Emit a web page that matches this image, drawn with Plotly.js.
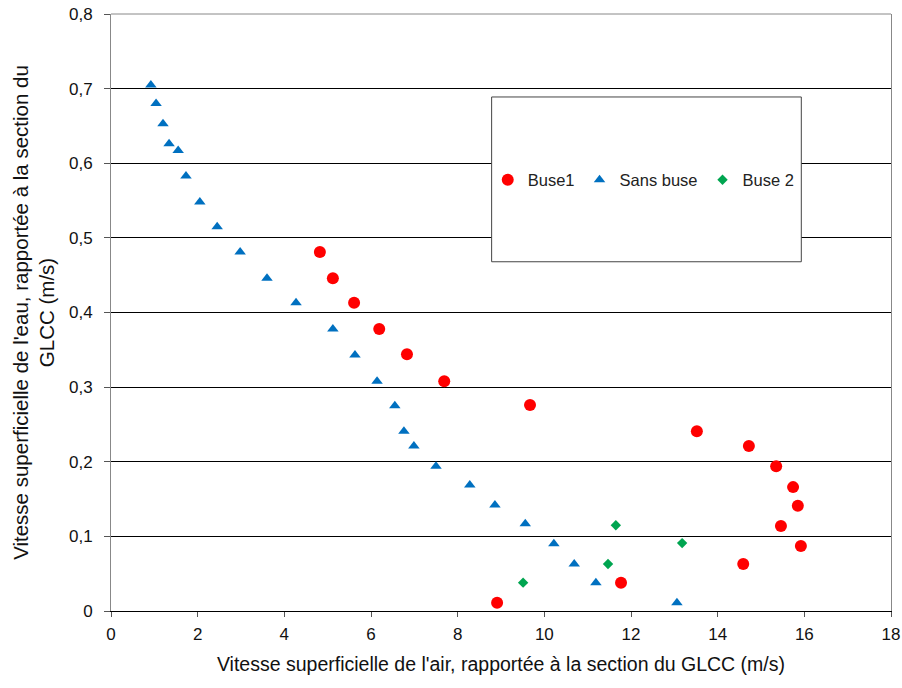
<!DOCTYPE html>
<html>
<head>
<meta charset="utf-8">
<script src="https://cdn.plot.ly/plotly-3.0.1.min.js"></script>
<style>html,body{margin:0;padding:0;background:#fff;}#chart{width:902px;height:688px;}</style>
</head>
<body>
<div id="chart"></div>
<script>
// Buse1
var buse1X = [4.82, 5.12, 5.61, 6.19, 6.83, 7.69, 9.67, 13.52, 14.72, 15.35, 15.74, 15.85, 15.46, 15.92, 14.59, 11.77, 8.91];
var buse1Y = [0.481, 0.446, 0.413, 0.378, 0.344, 0.308, 0.276, 0.241, 0.221, 0.194, 0.166, 0.141, 0.114, 0.087, 0.063, 0.038, 0.011];
// Sans buse
var sansX = [0.92, 1.04, 1.20, 1.34, 1.55, 1.73, 2.05, 2.45, 2.98, 3.60, 4.27, 5.12, 5.63, 6.14, 6.55, 6.76, 6.99, 7.50, 8.28, 8.86, 9.56, 10.22, 10.69, 11.19, 13.06];
var sansY = [0.705, 0.680, 0.653, 0.626, 0.617, 0.583, 0.548, 0.515, 0.481, 0.446, 0.413, 0.378, 0.343, 0.308, 0.275, 0.241, 0.221, 0.194, 0.169, 0.142, 0.117, 0.090, 0.063, 0.038, 0.011];
// Buse 2
var buse2X = [11.65, 13.18, 11.47, 9.51];
var buse2Y = [0.115, 0.091, 0.063, 0.038];

var seriesNames = ["Buse1", "Sans buse", "Buse 2"];
var xTitle = "Vitesse superficielle de l'air, rapportée à la section du GLCC (m/s)";
var yTitle = "Vitesse superficielle de l'eau, rapportée à la section du<br>GLCC (m/s)";

var font = "Liberation Sans, Arial, sans-serif";

var traces = [
  {x: buse1X, y: buse1Y, name: seriesNames[0], type: 'scatter', mode: 'markers',
   marker: {symbol: 'circle', size: 12, color: '#FF0000'}},
  {x: sansX, y: sansY, name: seriesNames[1], type: 'scatter', mode: 'markers',
   marker: {symbol: 'triangle-up', size: 10, color: '#0070C0'}},
  {x: buse2X, y: buse2Y, name: seriesNames[2], type: 'scatter', mode: 'markers',
   marker: {symbol: 'diamond', size: 8, color: '#00A550'}}
];

var layout = {
  width: 902, height: 688,
  margin: {l: 111, r: 11, t: 14, b: 77},
  paper_bgcolor: '#fff', plot_bgcolor: '#fff',
  separators: ', ',
  font: {family: font, size: 17, color: '#111'},
  showlegend: true,
  legend: {
    orientation: 'h', x: 0.683, y: 0.722, xanchor: 'center', yanchor: 'middle',
    bgcolor: 'rgba(0,0,0,0)', borderwidth: 0,
    font: {family: font, size: 16.5, color: '#222'},
    itemwidth: 30, tracegroupgap: 0
  },
  xaxis: {
    range: [0, 18], dtick: 2, tick0: 0, showgrid: false, zeroline: false,
    showline: true, linecolor: '#000', linewidth: 1,
    ticks: 'outside', ticklen: 5, tickcolor: '#555', tickwidth: 1, ticklabelstandoff: 3,
    tickfont: {family: font, size: 17, color: '#111'},
    title: {text: xTitle, font: {family: font, size: 19.5, color: '#111'}, standoff: 13}
  },
  yaxis: {
    range: [0, 0.8], dtick: 0.1, tick0: 0, showgrid: true, gridcolor: '#000', gridwidth: 1,
    zeroline: false, showline: true, linecolor: '#888', linewidth: 1, mirror: true,
    ticks: 'outside', ticklen: 6, tickcolor: '#555', tickwidth: 1, ticklabelstandoff: 8,
    tickfont: {family: font, size: 17, color: '#111'},
    title: {text: yTitle, font: {family: font, size: 20.5, color: '#111'}, standoff: 8}
  },
  shapes: [
    {type: 'line', xref: 'paper', yref: 'paper', x0: 0, x1: 1, y0: 1, y1: 1,
     line: {color: '#888', width: 1}, layer: 'above'},
    {type: 'rect', xref: 'paper', yref: 'paper', x0: 0.488, x1: 0.885, y0: 0.585, y1: 0.861,
     line: {color: '#444', width: 1}, fillcolor: '#fff', layer: 'above'}
  ]
};

Plotly.newPlot('chart', traces, layout, {displayModeBar: false, staticPlot: true});
</script>
</body>
</html>
